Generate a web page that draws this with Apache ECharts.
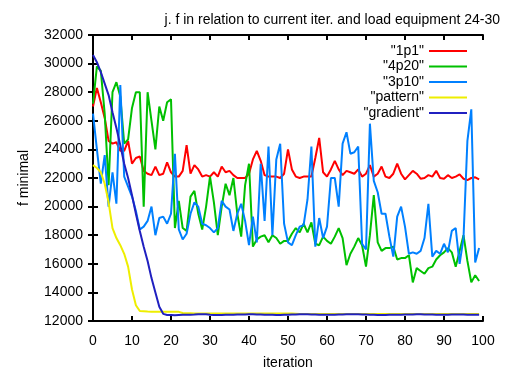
<!DOCTYPE html>
<html>
<head>
<meta charset="utf-8">
<script src="https://cdn.jsdelivr.net/npm/echarts@6/dist/echarts.min.js"></script>
<style>html,body{margin:0;padding:0;background:#fff;}#c{width:510px;height:370px;}</style>
</head>
<body>
<div id="c"></div>
<script>
var titleText = 'j. f in relation to current iter. and load equipment 24-30';
var seriesNames = ['"1p1"', '"4p20"', '"3p10"', '"pattern"', '"gradient"'];
var xTicks = [0, 10, 20, 30, 40, 50, 60, 70, 80, 90, 100];
var yTicks = [12000, 14000, 16000, 18000, 20000, 22000, 24000, 26000, 28000, 30000, 32000];

var s1p1 = [27000,28300,27300,26200,24600,24400,24500,23900,23900,24600,
23000,23400,23500,22500,22300,22200,22800,22200,22300,23100,
22400,22100,22100,22500,24300,22300,22900,22600,22100,22200,
22100,22400,22100,22800,22400,22500,22200,22000,22000,22000,
22300,23300,23900,23200,22200,22100,22100,22100,22000,22300,
24000,22600,22100,22000,22100,22100,22100,23400,24800,22400,
22100,22600,23200,22600,22200,22500,22400,22300,22600,22100,
22300,22900,22100,22300,22800,22100,22000,22300,23000,22300,
21900,22200,22500,22300,21950,22000,22200,22100,22500,22000,
21950,22200,22000,22100,22250,21950,21850,22000,22050,21900];

var s4p20 = [27200,29800,29500,26500,21500,28000,28700,27700,24400,24700,
26900,28000,28000,20000,28000,26000,24000,27000,26000,27300,
27500,18500,20400,18500,18300,20700,21100,19500,18400,20000,
22100,20300,18000,20000,21600,20800,22000,19500,17900,21500,
23000,17200,17700,17900,18000,17500,18000,17800,17400,17600,
17600,18100,18500,18200,18800,18200,18900,17400,17300,17900,
17600,17400,17900,18500,17800,15900,16700,17200,17800,17300,
15800,18000,20800,17500,16900,17100,17100,17200,16300,16400,
16400,16600,14700,15700,15500,15300,15700,15800,16300,16600,
16800,17100,16800,15800,16900,18000,16200,14700,15200,14800];

var s3p10 = [26500,24000,21600,23600,20000,22400,20200,28500,22100,21400,
20700,19700,18400,18600,19000,20000,18000,19200,19300,18800,
19500,23700,18400,17700,18100,19500,20300,20000,18800,18700,
18500,18200,18500,20400,20000,19800,18300,19500,20200,19000,
17300,19300,17500,23000,19000,24200,18000,23300,24400,18800,
17500,17300,18000,18600,18700,20500,24200,17200,19200,17800,
18600,22000,22000,20000,24400,25200,23700,23800,24200,17400,
17000,25800,21800,21000,19500,19500,17900,16500,19300,20000,
18600,16700,16800,16700,16900,17800,20200,16500,16900,16700,
17400,16800,18300,18500,16000,17800,24600,26800,16100,17100];

var sPattern = [22900,22700,22400,21600,20300,18500,17800,17300,16700,15800,
14200,13100,12700,12680,12660,12650,12650,12650,12650,12650,
12650,12650,12640,12560,12540,12540,12530,12530,12530,12530,
12530,12530,12530,12530,12530,12520,12520,12520,12520,12520,
12520,12520,12520,12520,12520,12520,12520,12520,12520,12520,
12520,12520,12510,12490,12490,12490,12490,12490,12490,12490,
12490,12490,12490,12490,12490,12490,12490,12490,12490,12490,
12490,12490,12490,12490,12490,12490,12490,12490,12490,12490,
12490,12490,12490,12490,12490,12490,12490,12490,12490,12490,
12490,12490,12490,12490,12490,12490,12490,12490,12490,12490];

var sGradient = [30600,30100,29400,28600,27800,26600,25500,24300,23000,22000,
20800,19500,18300,17200,16200,15000,14000,13000,12500,12420,
12420,12410,12420,12430,12440,12440,12450,12480,12480,12470,
12430,12420,12420,12420,12430,12440,12440,12450,12450,12460,
12470,12470,12460,12450,12440,12440,12430,12420,12420,12430,
12440,12450,12460,12470,12470,12470,12460,12450,12440,12440,
12430,12430,12440,12450,12460,12470,12480,12480,12470,12460,
12450,12440,12430,12420,12420,12420,12430,12440,12440,12440,
12450,12460,12460,12470,12470,12460,12450,12450,12440,12430,
12430,12440,12450,12460,12460,12450,12440,12440,12440,12440];

var seriesData = [s1p1, s4p20, s3p10, sPattern, sGradient];
var colors = ['#ff0000', '#00c000', '#0080ff', '#eeee00', '#2020c0'];

function pairs(arr) {
  var out = [];
  for (var i = 0; i < arr.length; i++) out.push([i, arr[i]]);
  return out;
}

var font = 'Liberation Sans, Arial, Helvetica, sans-serif';
var chart = echarts.init(document.getElementById('c'), null, {renderer: 'canvas'});

var series = [];
for (var k = 0; k < seriesNames.length; k++) {
  series.push({
    name: seriesNames[k],
    type: 'line',
    data: pairs(seriesData[k]),
    symbol: 'none',
    showSymbol: false,
    smooth: false,
    animation: false,
    lineStyle: {color: colors[k], width: 2},
    itemStyle: {color: colors[k]}
  });
}

var axisLineStyle = {show: true, lineStyle: {color: '#000', width: 2}};
var tickStyle = {show: true, inside: true, length: 5, lineStyle: {color: '#000', width: 2}};
function plain(v) { return String(v); }

chart.setOption({
  animation: false,
  backgroundColor: '#fff',
  title: {
    text: titleText,
    right: 5,
    top: 8,
    textStyle: {fontFamily: font, fontSize: 14, fontWeight: 'normal', color: '#000'}
  },
  legend: {
    orient: 'vertical',
    right: 38,
    top: 39,
    align: 'right',
    icon: 'path://M0,0 L38,0 L38,2 L0,2 Z',
    itemWidth: 38,
    itemHeight: 2,
    itemGap: 1.5,
    data: seriesNames,
    textStyle: {fontFamily: font, fontSize: 14, lineHeight: 14, color: '#000'}
  },
  grid: {left: 93, right: 27, top: 35, bottom: 49, containLabel: false, outerBoundsMode: 'none'},
  xAxis: [{
    type: 'value',
    min: xTicks[0],
    max: xTicks[xTicks.length - 1],
    interval: 10,
    name: 'iteration',
    nameLocation: 'middle',
    nameGap: 35,
    nameTextStyle: {fontFamily: font, fontSize: 14, color: '#000'},
    axisLine: axisLineStyle,
    axisTick: tickStyle,
    splitLine: {show: false},
    axisLabel: {fontFamily: font, fontSize: 14, color: '#000', margin: 13, formatter: plain}
  }, {
    type: 'value',
    position: 'top',
    min: xTicks[0],
    max: xTicks[xTicks.length - 1],
    interval: 10,
    axisLine: axisLineStyle,
    axisTick: tickStyle,
    splitLine: {show: false},
    axisLabel: {show: false}
  }],
  yAxis: [{
    type: 'value',
    min: yTicks[0],
    max: yTicks[yTicks.length - 1],
    interval: 2000,
    name: 'f minimal',
    nameLocation: 'middle',
    nameRotate: 90,
    nameGap: 62,
    nameTextStyle: {fontFamily: font, fontSize: 14, color: '#000'},
    axisLine: axisLineStyle,
    axisTick: tickStyle,
    splitLine: {show: false},
    axisLabel: {fontFamily: font, fontSize: 14, color: '#000', margin: 10, formatter: plain}
  }, {
    type: 'value',
    position: 'right',
    min: yTicks[0],
    max: yTicks[yTicks.length - 1],
    interval: 2000,
    axisLine: axisLineStyle,
    axisTick: tickStyle,
    splitLine: {show: false},
    axisLabel: {show: false}
  }],
  series: series
});
</script>
</body>
</html>
